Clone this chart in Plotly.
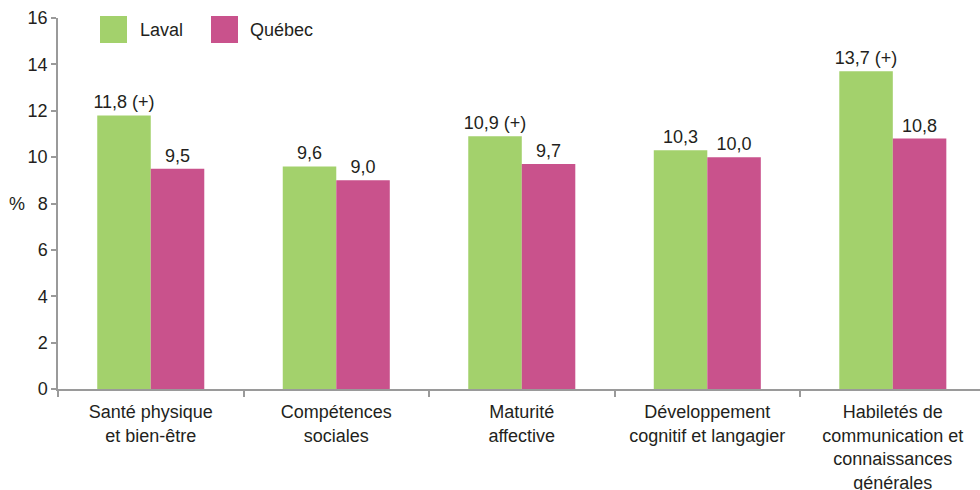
import plotly.graph_objects as go

categories = [
    "Santé physique<br>et bien-être",
    "Compétences<br>sociales",
    "Maturité<br>affective",
    "Développement<br>cognitif et langagier",
    "Habiletés de<br>communication et<br>connaissances<br>générales",
]
series_names = ["Laval", "Québec"]
laval_values = [11.8, 9.6, 10.9, 10.3, 13.7]
quebec_values = [9.5, 9.0, 9.7, 10.0, 10.8]
laval_flags = [" (+)", "", " (+)", "", " (+)"]
quebec_flags = ["", "", "", "", ""]
y_ticks = [0, 2, 4, 6, 8, 10, 12, 14, 16]

GREEN = "#a3d16c"
PINK = "#c9528c"
TXT = "#231f20"
FONT = "Liberation Sans"


def fr(v):
    return f"{v:.1f}".replace(".", ",")


fig = go.Figure()
fig.add_trace(go.Bar(
    x=categories, y=laval_values, name=series_names[0],
    marker=dict(color=GREEN, line=dict(width=0)),
    text=[fr(v) + f for v, f in zip(laval_values, laval_flags)],
    textposition="outside", textangle=0, cliponaxis=False, constraintext="none",
    textfont=dict(size=18, color=TXT, family=FONT),
    showlegend=False,
))
fig.add_trace(go.Bar(
    x=categories, y=quebec_values, name=series_names[1],
    marker=dict(color=PINK, line=dict(width=0)),
    text=[fr(v) + f for v, f in zip(quebec_values, quebec_flags)],
    textposition="outside", textangle=0, cliponaxis=False, constraintext="none",
    textfont=dict(size=18, color=TXT, family=FONT),
    showlegend=False,
))

L, R, T, B = 58, 980, 18, 389
W, H = R - L, B - T


def px_x(p):
    return (p - L) / W


def px_y(p):
    return (B - p) / H


shapes = []
annotations = []
legend_items = [(series_names[0], GREEN, 100, 138), (series_names[1], PINK, 211, 248)]
for name, col, sx, tx in legend_items:
    shapes.append(dict(type="rect", xref="paper", yref="paper",
                       x0=px_x(sx), x1=px_x(sx + 27), y0=px_y(43), y1=px_y(16),
                       fillcolor=col, line=dict(width=0)))
    annotations.append(dict(xref="paper", yref="paper", x=px_x(tx), y=px_y(30),
                            text=name, showarrow=False, xanchor="left", yanchor="middle",
                            font=dict(size=18, color=TXT, family=FONT)))

annotations.append(dict(xref="paper", yref="y", x=px_x(17), y=8, text="%",
                        showarrow=False, xanchor="center", yanchor="middle",
                        font=dict(size=18, color=TXT, family=FONT)))

fig.update_layout(
    width=980, height=490,
    margin=dict(l=L, r=980 - R, t=T, b=490 - B, pad=0),
    paper_bgcolor="white", plot_bgcolor="white",
    barmode="group", bargap=0.423, bargroupgap=0,
    font=dict(family=FONT, size=18, color=TXT),
    shapes=shapes, annotations=annotations,
    xaxis=dict(
        type="category", automargin=False, tickson="boundaries",
        range=[-0.5, 4.47], showgrid=False, zeroline=False,
        showline=True, linecolor="#9a9a9a", linewidth=1.5,
        ticks="outside", ticklen=6, tickcolor="#9a9a9a", tickwidth=1.5,
        ticklabelstandoff=6,
        tickfont=dict(size=18, color=TXT, family=FONT),
    ),
    yaxis=dict(
        automargin=False,
        range=[0, 16], tickvals=y_ticks, showgrid=False, zeroline=False,
        showline=True, linecolor="#9a9a9a", linewidth=1.5,
        ticks="outside", ticklen=5, tickcolor="#9a9a9a", tickwidth=1.5,
        tickfont=dict(size=18, color=TXT, family=FONT),
    ),
)

fig.write_html(
    "out.html",
    config={"displayModeBar": False},
    post_script="document.body.style.margin='0';document.body.style.overflow='hidden';",
)
